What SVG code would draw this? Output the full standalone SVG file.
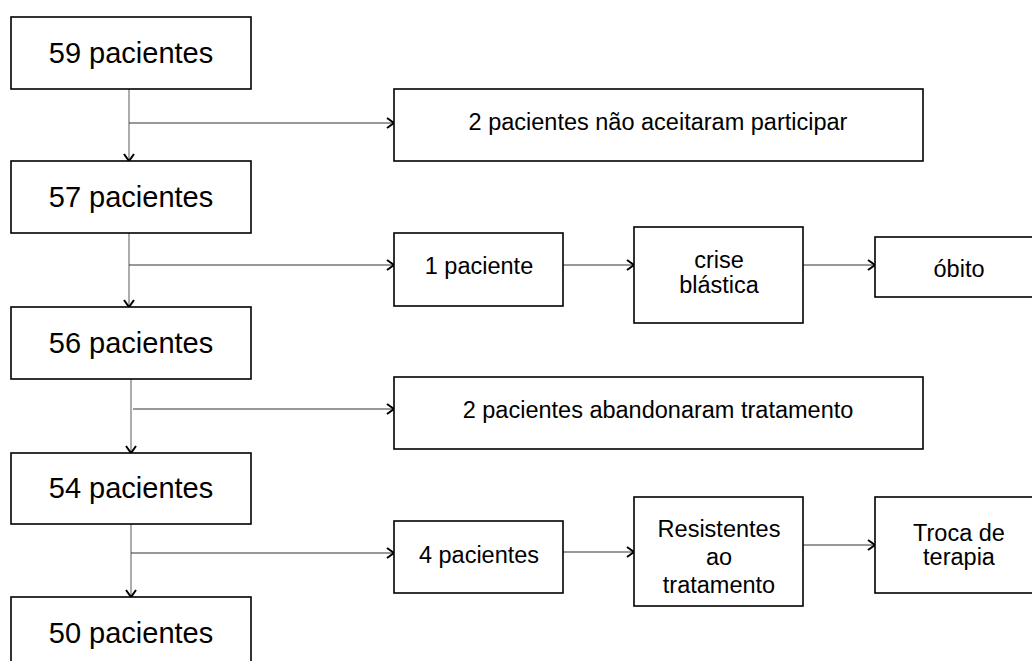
<svg xmlns="http://www.w3.org/2000/svg" width="1032" height="661" viewBox="0 0 1032 661">
<style>
.box{fill:#fff;stroke:#000;stroke-width:1.6}
.big{font-family:"Liberation Sans",Arial,sans-serif;font-size:29px;fill:#000;text-anchor:middle}
.txt{font-family:"Liberation Sans",Arial,sans-serif;font-size:23.5px;fill:#000;text-anchor:middle}
.v{stroke:#808080;stroke-width:1.3;fill:none}
.h{stroke:#333;stroke-width:1;fill:none}
</style>
<defs>
<marker id="arr" markerUnits="userSpaceOnUse" markerWidth="12" markerHeight="14" refX="8" refY="6" orient="auto">
<path d="M1,1 L8,6 L1,11" fill="none" stroke="#000" stroke-width="2"/>
</marker>
</defs>
<g id="connectors">
<line class="v" x1="129" y1="89" x2="129" y2="161" marker-end="url(#arr)"/>
<line class="v" x1="129" y1="233" x2="129" y2="307" marker-end="url(#arr)"/>
<line class="v" x1="131" y1="379" x2="131" y2="453" marker-end="url(#arr)"/>
<line class="v" x1="131" y1="524" x2="131" y2="597" marker-end="url(#arr)"/>
<line class="h" x1="129" y1="123" x2="394" y2="123" marker-end="url(#arr)"/>
<line class="h" x1="129" y1="265" x2="394" y2="265" marker-end="url(#arr)"/>
<line class="h" x1="133" y1="409" x2="394" y2="409" marker-end="url(#arr)"/>
<line class="h" x1="131" y1="553" x2="394" y2="553" marker-end="url(#arr)"/>
<line class="h" x1="563" y1="265" x2="634" y2="265" marker-end="url(#arr)"/>
<line class="h" x1="803" y1="265" x2="875" y2="265" marker-end="url(#arr)"/>
<line class="h" x1="563" y1="552" x2="634" y2="552" marker-end="url(#arr)"/>
<line class="h" x1="803" y1="545" x2="875" y2="545" marker-end="url(#arr)"/>
</g>
<g id="n59"><rect class="box" x="11" y="17" width="240" height="72"/><text class="big" x="131" y="63">59 pacientes</text></g>
<g id="n57"><rect class="box" x="11" y="161" width="240" height="72"/><text class="big" x="131" y="207">57 pacientes</text></g>
<g id="n56"><rect class="box" x="11" y="307" width="240" height="72"/><text class="big" x="131" y="353">56 pacientes</text></g>
<g id="n54"><rect class="box" x="11" y="453" width="240" height="71"/><text class="big" x="131" y="498">54 pacientes</text></g>
<g id="n50"><rect class="box" x="11" y="597" width="240" height="72"/><text class="big" x="131" y="643">50 pacientes</text></g>
<g id="r1"><rect class="box" x="394" y="89" width="529" height="72"/><text class="txt" x="658" y="130">2 pacientes não aceitaram participar</text></g>
<g id="r2a"><rect class="box" x="394" y="233" width="169" height="73"/><text class="txt" x="479" y="274">1 paciente</text></g>
<g id="r2b"><rect class="box" x="634" y="227" width="169" height="96"/><text class="txt" x="719" y="268">crise</text><text class="txt" x="719" y="293">blástica</text></g>
<g id="r2c"><rect class="box" x="875" y="237" width="169" height="60"/><text class="txt" x="959" y="277">óbito</text></g>
<g id="r3"><rect class="box" x="394" y="377" width="529" height="72"/><text class="txt" x="658" y="418">2 pacientes abandonaram tratamento</text></g>
<g id="r4a"><rect class="box" x="394" y="521" width="169" height="72"/><text class="txt" x="479" y="563">4 pacientes</text></g>
<g id="r4b"><rect class="box" x="634" y="497" width="169" height="109"/><text class="txt" x="719" y="537">Resistentes</text><text class="txt" x="719" y="565">ao</text><text class="txt" x="719" y="593">tratamento</text></g>
<g id="r4c"><rect class="box" x="875" y="497" width="169" height="96"/><text class="txt" x="959" y="541">Troca de</text><text class="txt" x="959" y="565">terapia</text></g>
</svg>
